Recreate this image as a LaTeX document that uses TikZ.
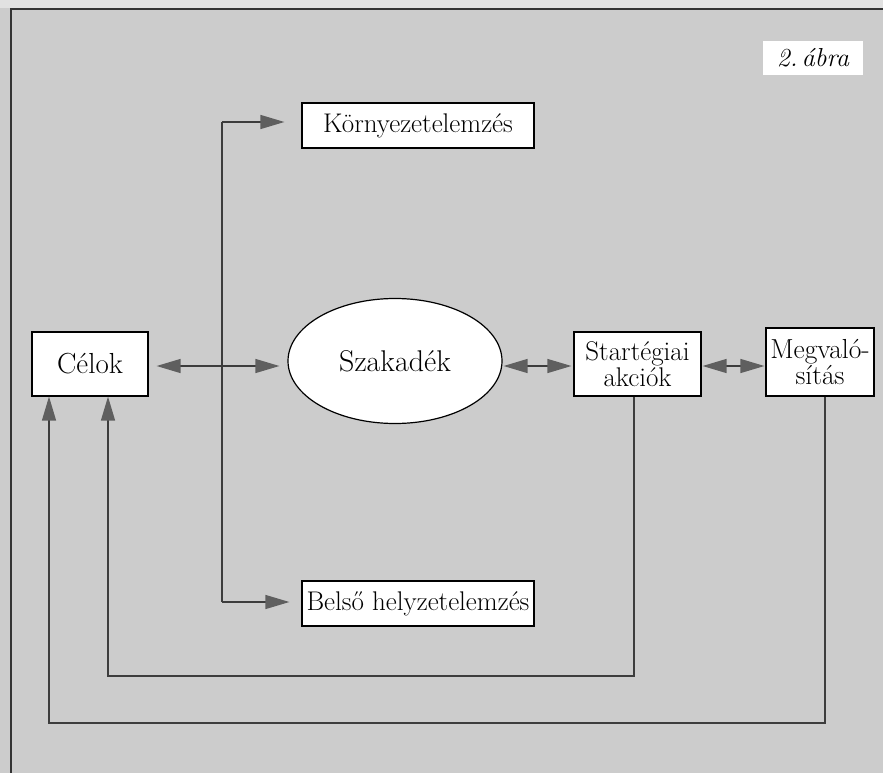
\documentclass[tikz,border=0pt]{standalone}
\usetikzlibrary{arrows.meta,shapes.geometric,calc}
\definecolor{bg}{RGB}{204,204,204}
\definecolor{topbg}{RGB}{225,225,225}
\definecolor{tipgray}{RGB}{95,95,95}
\definecolor{linegray}{RGB}{60,60,60}
\tikzset{
  boxnode/.style={draw=black,fill=white,line width=1.2pt,inner sep=1pt,align=center,font=\fontsize{27}{26}\selectfont},
  conn/.style={draw=linegray,line width=1.3pt},
  tip/.style={-{Triangle[length=24pt,width=14pt,fill=tipgray,color=tipgray]}},
  dtip/.style={{Triangle[length=24pt,width=14pt,fill=tipgray,color=tipgray]}-{Triangle[length=24pt,width=14pt,fill=tipgray,color=tipgray]}},
}
\begin{document}
\begin{tikzpicture}[x=1pt,y=-1pt]
\useasboundingbox (0,0) rectangle (883,773);
\fill[bg] (0,0) rectangle (883,773);
\fill[topbg] (0,0) rectangle (883,8);
\draw[line width=1.5pt,black!80] (11,790) -- (11,9) -- (890,9);
% nodes
\node[boxnode,font=\itshape\fontsize{26}{26}\selectfont,draw=none,minimum width=100pt,minimum height=34pt] (abra) at (813,58) {2.\,ábra};
\node[boxnode,minimum width=232pt,minimum height=45pt] (korny) at (418,125.5) {Környezetelemzés};
\node[boxnode,minimum width=116pt,minimum height=64pt,font=\fontsize{29}{29}\selectfont] (celok) at (90,364) {Célok};
\node[draw=black,fill=white,line width=1.2pt,ellipse,minimum width=214pt,minimum height=125pt,inner sep=0pt,font=\fontsize{30}{30}\selectfont] (szak) at (395,361) {Szakadék};
\node[boxnode,minimum width=127pt,minimum height=64pt] (strat) at (637.5,364) {Startégiai\\akciók};
\node[boxnode,minimum width=108pt,minimum height=68pt,inner sep=0.5pt,font=\fontsize{27.5}{26}\selectfont] (megv) at (820,362) {Megvaló-\\sítás};
\node[boxnode,minimum width=232pt,minimum height=45pt] (belso) at (418,603.5) {Belső helyzetelemzés};
% coordinates
\coordinate (vtop) at (222,122);
\coordinate (vbot) at (222,602);
\coordinate (low1) at (0,676);
\coordinate (low2) at (0,723);
% connectors
\draw[conn] (vtop) -- (vbot);
\draw[conn,tip,shorten >=17pt] (vtop) -- (korny.west |- vtop);
\draw[conn,tip,shorten >=12pt] (vbot) -- (belso.west |- vbot);
\draw[conn,dtip,shorten <=8pt,shorten >=8pt] (celok.east |- 0,366) -- (szak.west |- 0,366);
\draw[conn,dtip,shorten <=1pt,shorten >=2pt] (szak.east |- 0,366) -- (strat.west |- 0,366);
\draw[conn,dtip,shorten <=1pt,shorten >=1pt] (strat.east |- 0,366) -- (megv.west |- 0,366);
\draw[conn,tip] ([xshift=-3.5pt]strat.south) |- ([xshift=18pt]celok.south |- low1) -- ([xshift=18pt]celok.south);
\draw[conn,tip] ([xshift=5pt]megv.south) |- ([xshift=-41pt]celok.south |- low2) -- ([xshift=-41pt]celok.south);
\end{tikzpicture}
\end{document}
